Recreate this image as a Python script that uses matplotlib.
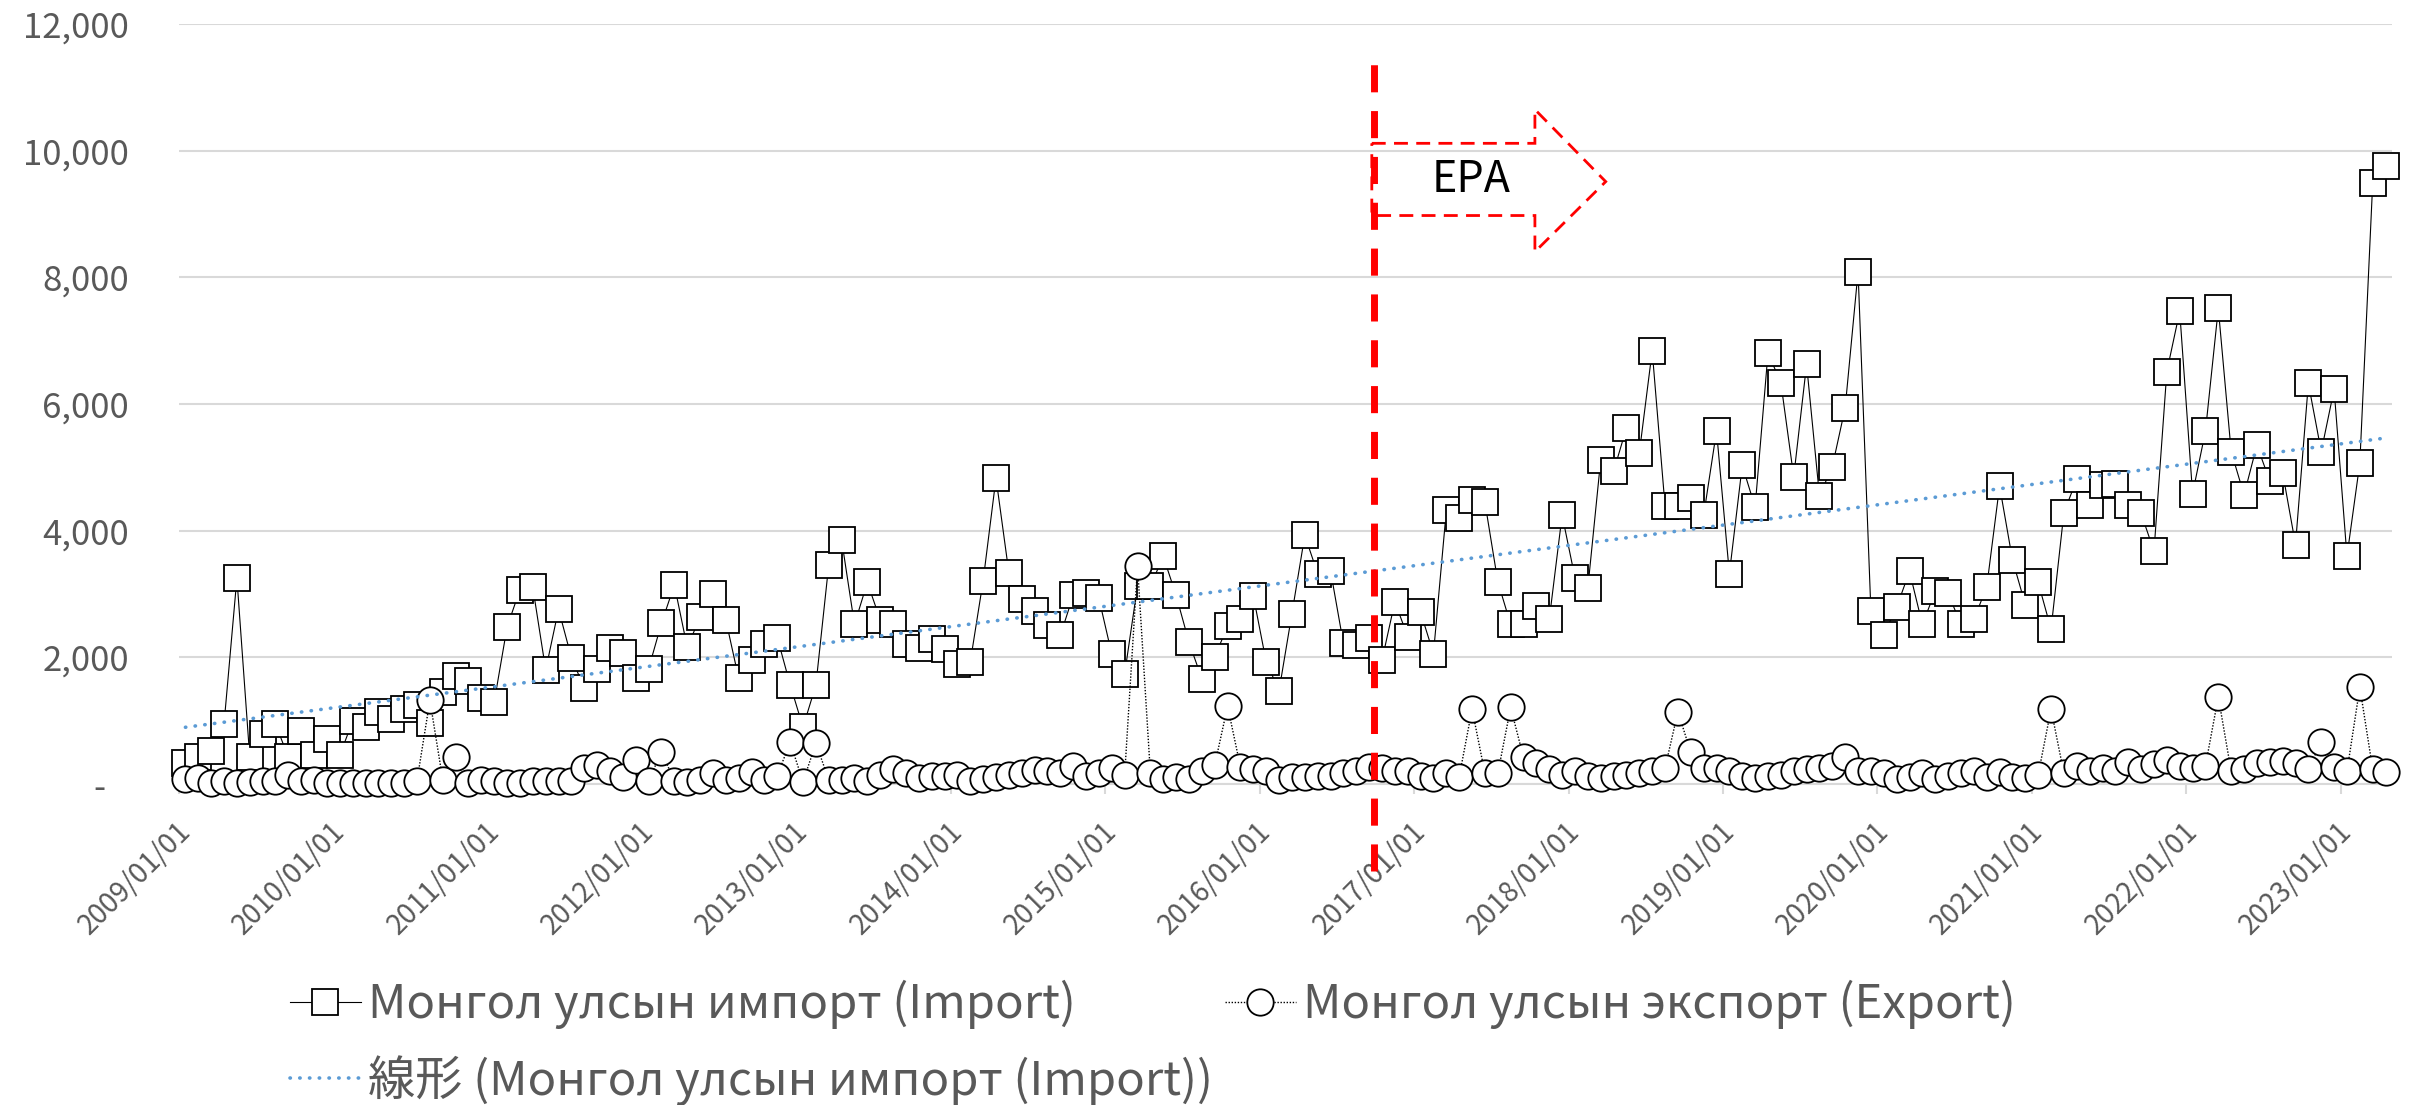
import matplotlib
matplotlib.use("Agg")
import matplotlib.pyplot as plt
import matplotlib.transforms as mtransforms
import numpy as np
from matplotlib.patches import Polygon
from matplotlib.ticker import FuncFormatter

plt.rcParams["font.family"] = ["Noto Sans CJK JP", "DejaVu Sans"]

# monthly values, 2009/01 .. 2023/04
import_vals = [
    332, 419, 518, 950, 3250, 419, 797, 950, 419, 844, 452, 711,
    452, 997, 897, 1130, 1030, 1183, 1243, 964, 1449, 1701, 1621, 1362,
    1296, 2479, 3070, 3103, 1801, 2758, 1994, 1515, 1821, 2146, 2067, 1681,
    1821, 2538, 3143, 2160, 2631, 3004, 2592, 1668, 1954, 2213, 2312, 1568,
    897, 1562, 3462, 3854, 2519, 3183, 2592, 2519, 2213, 2146, 2292, 2126,
    1887, 1927, 3210, 4831, 3336, 2924, 2724, 2512, 2346, 2977, 3010, 2930,
    2047, 1741, 3130, 3123, 3595, 2977, 2239, 1661, 2007, 2492, 2598, 2970,
    1927, 1475, 2691, 3927, 3322, 3369, 2219, 2193, 2306, 1954, 2877, 2326,
    2711, 2060, 4319, 4206, 4479, 4446, 3196, 2519, 2519, 2811, 2598, 4246,
    3256, 3097, 5123, 4937, 5622, 5230, 6838, 4386, 4386, 4519, 4240, 5575,
    3322, 5030, 4372, 6804, 6339, 4851, 6625, 4552, 5010, 5941, 8087, 2724,
    2359, 2791, 3356, 2519, 3043, 3010, 2519, 2598, 3110, 4705, 3542, 2831,
    3183, 2445, 4286, 4811, 4399, 4718, 4738, 4399, 4273, 3675, 6512, 7462,
    4585, 5569, 7509, 5250, 4565, 5349, 4784, 4917, 3781, 6326, 5250, 6233,
    3595, 5070, 9489, 9762,
]
export_vals = [
    86, 100, 15, 53, 20, 33, 53, 53, 146, 53, 66, 20,
    10, 10, 10, 10, 10, 20, 53, 1323, 66, 419, 10, 66,
    53, 20, 20, 40, 40, 40, 40, 252, 299, 199, 113, 379,
    47, 512, 47, 33, 66, 166, 66, 100, 186, 66, 133, 660,
    33, 645, 66, 66, 100, 53, 146, 233, 166, 100, 133, 133,
    146, 47, 86, 113, 146, 166, 226, 199, 166, 279, 133, 166,
    252, 146, 3435, 166, 86, 113, 86, 199, 299, 1229, 266, 233,
    199, 66, 113, 113, 133, 133, 166, 213, 266, 252, 199, 199,
    120, 100, 166, 113, 1183, 166, 166, 1209, 419, 332, 233, 146,
    213, 133, 100, 133, 146, 166, 199, 252, 1143, 498, 252, 252,
    213, 133, 100, 133, 150, 213, 233, 252, 286, 419, 199, 199,
    166, 86, 113, 166, 80, 133, 166, 199, 113, 186, 113, 100,
    146, 1183, 166, 279, 200, 252, 199, 346, 233, 319, 379, 286,
    252, 286, 1376, 199, 233, 332, 352, 365, 332, 233, 665, 266,
    199, 1528, 233, 186,
]
year_labels = [f"{y}/01/01" for y in range(2009, 2024)]
legend_labels = [
    "Монгол улсын импорт (Import)",
    "線形 (Монгол улсын импорт (Import))",
    "Монгол улсын экспорт (Export)",
]
epa_month = 92.4  # where the EPA marker line sits (month index)

W, H = 2425, 1105
GRAY = "#595959"
GRID = "#D9D9D9"

months = np.arange(len(import_vals))

fig = plt.figure(figsize=(W / 100, H / 100), dpi=100)
ax = fig.add_axes([179 / W, 1 - 784 / H, 2213 / W, 760 / H])

h_imp, = ax.plot(months, import_vals, color="black", lw=0.8, marker="s", ms=19,
                 mfc="white", mec="black", mew=1.3, zorder=3, clip_on=False)
h_exp, = ax.plot(months, export_vals, color="black", lw=1.0, ls=(0, (1, 1.2)),
                 marker="o", ms=19, mfc="white", mec="black", mew=1.3, zorder=4,
                 clip_on=False)

coef = np.polyfit(months, import_vals, 1)
h_trend, = ax.plot(months, np.polyval(coef, months), color="#5B9BD5", lw=2.6,
                   ls=(0, (0.1, 2.6)), dash_capstyle="round", zorder=5)

ax.set_xlim(-0.5, len(months) - 0.5)
ax.set_ylim(0, 12000)
ax.set_yticks(range(0, 12001, 2000))
ax.yaxis.set_major_formatter(FuncFormatter(lambda v, p: "-   " if v == 0 else f"{int(v):,}"))
ax.yaxis.grid(True, color=GRID, lw=1.5)
ax.set_axisbelow(True)
for s in ["top", "right", "left"]:
    ax.spines[s].set_visible(False)
ax.spines["bottom"].set_color(GRID)
ax.spines["bottom"].set_linewidth(1.5)

ax.set_xticks(np.arange(0, len(months), 12) - 0.5)
ax.set_xticklabels(year_labels, rotation=45, ha="right", va="center",
                   rotation_mode="anchor")
ax.tick_params(axis="x", length=7, width=1.5, color=GRID, labelsize=20,
               labelcolor=GRAY, pad=24)
ax.tick_params(axis="y", length=0, labelsize=25, labelcolor=GRAY, pad=36)
shift = mtransforms.ScaledTranslation(0.07, 0, fig.dpi_scale_trans)
for lab in ax.get_xticklabels():
    lab.set_transform(lab.get_transform() + shift)

# EPA marker
ax.axvline(epa_month, ymin=-0.114, ymax=0.957, color="red", lw=5,
           ls=(0, (3.9, 2.7)), clip_on=False, zorder=6)
arrow = Polygon([(0.539, 0.843), (0.6127, 0.843), (0.6127, 0.8875),
                 (0.6447, 0.7926), (0.6127, 0.7003), (0.6127, 0.748),
                 (0.539, 0.748)], closed=True, fill=False, edgecolor="red",
                lw=2, ls=(0, (5, 3)), transform=ax.transAxes, zorder=6)
ax.add_patch(arrow)
ax.text(0.5838, 0.7943, "EPA", transform=ax.transAxes, ha="center",
        va="center", fontsize=31, color="black", zorder=7)

fig.legend([h_imp, h_trend, h_exp], legend_labels, ncol=2, loc="upper left",
           bbox_to_anchor=(290 / W, 1 - 980 / H), frameon=False, fontsize=34,
           labelcolor=GRAY, handlelength=1.5, handletextpad=0.15,
           columnspacing=0.25, labelspacing=0.55, borderpad=0, borderaxespad=0)

fig.savefig("out.png", dpi=100)
